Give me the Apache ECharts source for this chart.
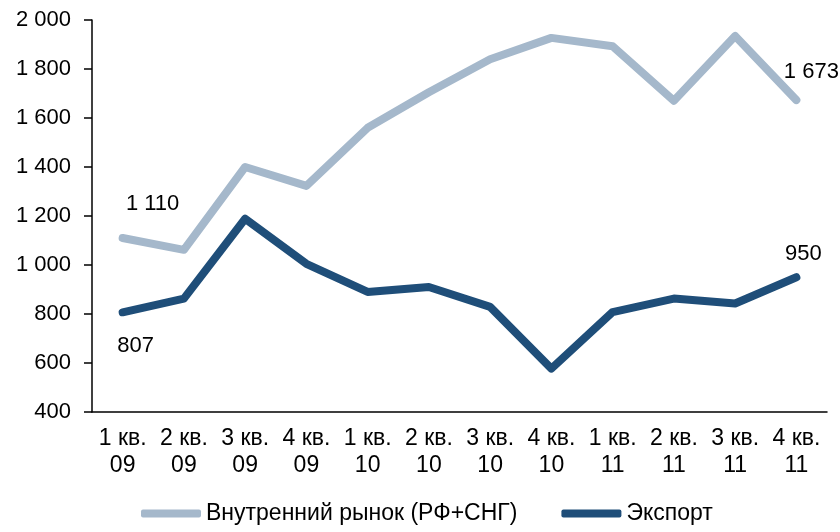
<!DOCTYPE html>
<html lang="ru">
<head>
    <meta charset="UTF-8">
    <title>Внутренний рынок и экспорт</title>
    <script src="https://cdn.jsdelivr.net/npm/echarts@6/dist/echarts.min.js"></script>
    <style type="text/css">
        html, body { height: 100%; margin: 0; background: #ffffff; }
        #main { width: 840px; height: 532px; }
    </style>
</head>
<body>
    <div id="main"></div>
    <script type="text/javascript">
        // categories (quarters)
        var quarters = ['1 кв.\n09', '2 кв.\n09', '3 кв.\n09', '4 кв.\n09',
                        '1 кв.\n10', '2 кв.\n10', '3 кв.\n10', '4 кв.\n10',
                        '1 кв.\n11', '2 кв.\n11', '3 кв.\n11', '4 кв.\n11'];
        // domestic market (RF + CIS)
        var domestic = [1110, 1062, 1400, 1323, 1560, 1705, 1840, 1927, 1893, 1670, 1935, 1673];
        // export
        var exportVals = [807, 863, 1189, 1005, 890, 910, 829, 577, 808, 863, 843, 950];
        var seriesNames = ['Внутренний рынок (РФ+СНГ)', 'Экспорт'];

        var FONT = "'Liberation Sans', Arial, sans-serif";

        function fmt(v) {
            return String(v).replace(/\B(?=(\d{3})+(?!\d))/g, ' ');
        }

        // labels only on selected points, offsets
        function withLabels(values, marks) {
            return values.map(function (v, i) {
                var item = { value: v };
                if (marks[i]) {
                    item.label = {
                        show: true,
                        position: 'inside',
                        offset: marks[i],
                        formatter: function (p) { return fmt(p.value); },
                        color: '#000',
                        fontSize: 22,
                        fontFamily: FONT
                    };
                }
                return item;
            });
        }

        var chart = echarts.init(document.getElementById('main'));
        var option = {
            animation: false,
            textStyle: { fontFamily: FONT },
            grid: { left: 92, right: 13, top: 20, bottom: 120 },
            legend: {
                left: 136,
                bottom: 2,
                itemWidth: 60,
                itemHeight: 8,
                itemGap: 44,
                icon: 'roundRect',
                textStyle: { fontSize: 23, color: '#000', fontFamily: FONT },
                data: seriesNames
            },
            xAxis: {
                type: 'category',
                data: quarters,
                axisLine: { lineStyle: { color: '#000', width: 1.5 } },
                axisTick: { length: 5, lineStyle: { color: '#000', width: 1.5 } },
                axisLabel: {
                    color: '#000', fontSize: 23, lineHeight: 27, margin: 13,
                    fontFamily: FONT, interval: 0
                }
            },
            yAxis: {
                type: 'value',
                min: 400,
                max: 2000,
                interval: 200,
                splitLine: { show: false },
                axisLine: { show: true, lineStyle: { color: '#000', width: 1.5 } },
                axisTick: { show: true, length: 8, lineStyle: { color: '#000', width: 1.5 } },
                axisLabel: {
                    color: '#000', fontSize: 22, margin: 21, fontFamily: FONT,
                    formatter: function (v) { return fmt(v); }
                }
            },
            series: [{
                name: seriesNames[0],
                type: 'line',
                data: withLabels(domestic, { 0: [30, -34], 11: [15, -28] }),
                symbol: 'circle',
                symbolSize: 2,
                showSymbol: true,
                color: '#A5B8CB',
                lineStyle: { width: 8, color: '#A5B8CB', cap: 'round', join: 'round' }
            }, {
                name: seriesNames[1],
                type: 'line',
                data: withLabels(exportVals, { 0: [13, 34], 11: [7, -23] }),
                symbol: 'circle',
                symbolSize: 2,
                showSymbol: true,
                color: '#1F4E79',
                lineStyle: { width: 8, color: '#1F4E79', cap: 'round', join: 'round' }
            }]
        };
        chart.setOption(option);
    </script>
</body>
</html>
